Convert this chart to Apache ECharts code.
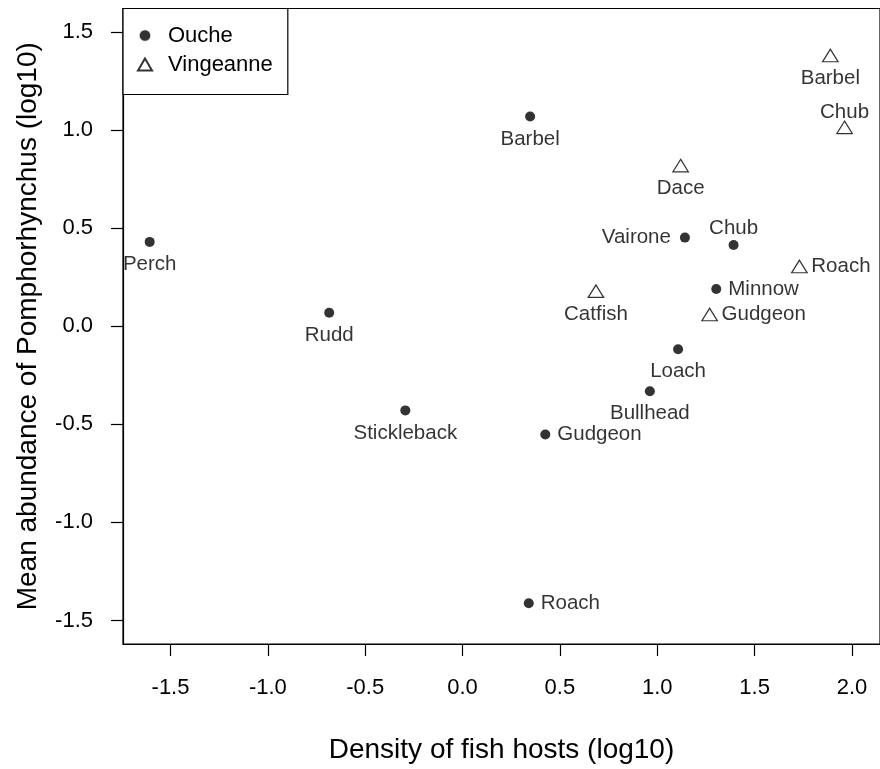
<!DOCTYPE html>
<html><head><meta charset="utf-8">
<style>html,body{margin:0;padding:0;background:#fff}#c{width:880px;height:769px}</style>
<script src="https://cdn.jsdelivr.net/npm/echarts@6/dist/echarts.min.js"></script>
</head><body><div id="c"></div>
<script>
// ---- data ----
const oucheNames = ['Perch','Rudd','Stickleback','Barbel','Roach','Gudgeon','Bullhead','Loach','Vairone','Chub','Minnow'];
const oucheX = [-1.607,-0.685,-0.294,0.347,0.340,0.425,0.962,1.107,1.142,1.392,1.303];
const oucheY = [0.430,0.069,-0.429,1.069,-1.412,-0.552,-0.331,-0.117,0.452,0.414,0.190];
const oucheLabelSide = ['bottom','bottom','bottom','bottom','right','right','bottom','bottom','left','top','right'];

const vingNames = ['Barbel','Chub','Dace','Roach','Catfish','Gudgeon'];
const vingX = [1.889,1.962,1.120,1.730,0.685,1.269];
const vingY = [1.380,1.014,0.819,0.305,0.179,0.060];
const vingLabelSide = ['bottom','top','bottom','right','bottom','right'];

const xTicks = [-1.5,-1.0,-0.5,0.0,0.5,1.0,1.5,2.0];
const yTicks = [-1.5,-1.0,-0.5,0.0,0.5,1.0,1.5];
const seriesNames = ['Ouche','Vingeanne'];

// ---- chart ----
const FONT = '"Liberation Sans", Arial, Helvetica, sans-serif';
const dist = {
  circle:   {bottom:7, right:7, left:9, top:1.5},
  triangle: {bottom:5.5, right:3.5, left:3, top:-2}
};
function build(names, xs, ys, sides, kind) {
  return names.map((n, i) => ({
    name: n,
    value: [xs[i], ys[i]],
    label: {position: sides[i], distance: dist[kind][sides[i]]}
  }));
}
const labelStyle = {show:true, formatter:'{b}', fontSize:20.5, color:'#000', fontFamily:FONT};
const axisCommon = {
  type:'value',
  splitLine:{show:false},
  axisLine:{show:true, onZero:false, lineStyle:{color:'#000', width:1.2}},
  nameTextStyle:{fontSize:28, color:'#000', fontFamily:FONT}
};

const chart = echarts.init(document.getElementById('c'), null, {renderer:'canvas'});
chart.setOption({
  animation:false,
  backgroundColor:'#fff',
  textStyle:{fontFamily:FONT, color:'#000'},
  grid:{left:123, top:8.5, width:759, height:640.3, show:true, borderColor:'#000', borderWidth:1.2, containLabel:false},
  xAxis:Object.assign({}, axisCommon, {
    min:-1.744, max:2.144,
    name:'Density of fish hosts (log10)', nameLocation:'middle', nameGap:92,
    axisTick:{show:true, customValues:xTicks, length:12, lineStyle:{color:'#000', width:1.2}},
    axisLabel:{customValues:xTicks, formatter:v => v.toFixed(1), fontSize:22, color:'#000', margin:33, fontFamily:FONT}
  }),
  yAxis:Object.assign({}, axisCommon, {
    min:-1.62, max:1.62,
    name:'Mean abundance of Pomphorhynchus (log10)', nameLocation:'middle', nameRotate:90, nameGap:81,
    axisTick:{show:true, customValues:yTicks, length:12, lineStyle:{color:'#000', width:1.2}},
    axisLabel:{customValues:yTicks, formatter:v => v.toFixed(1), fontSize:22, color:'#000', margin:30, fontFamily:FONT}
  }),
  legend:{
    data:[{name:seriesNames[0], itemStyle:{borderColor:'#fff', borderWidth:1.5}}, {name:seriesNames[1]}],
    orient:'vertical', left:123, top:8.5,
    backgroundColor:'#fff',
    borderColor:'#000', borderWidth:1.2, borderRadius:0,
    padding:[15, 15, 18, 14],
    itemWidth:14, itemHeight:12, itemGap:5,
    textStyle:{fontSize:22, color:'#000', fontFamily:FONT, padding:[0,0,0,11], lineHeight:24}
  },
  series:[
    {
      name:seriesNames[0], type:'scatter', symbol:'circle', symbolSize:10,
      itemStyle:{color:'#000'},
      label:labelStyle,
      emphasis:{disabled:true},
      data:build(oucheNames, oucheX, oucheY, oucheLabelSide, 'circle')
    },
    {
      name:seriesNames[1], type:'scatter', symbol:'triangle', symbolSize:[15.5, 12.5],
      itemStyle:{color:'#fff', borderColor:'#000', borderWidth:1.2},
      label:labelStyle,
      emphasis:{disabled:true},
      data:build(vingNames, vingX, vingY, vingLabelSide, 'triangle')
    }
  ]
});
</script>
</body></html>
